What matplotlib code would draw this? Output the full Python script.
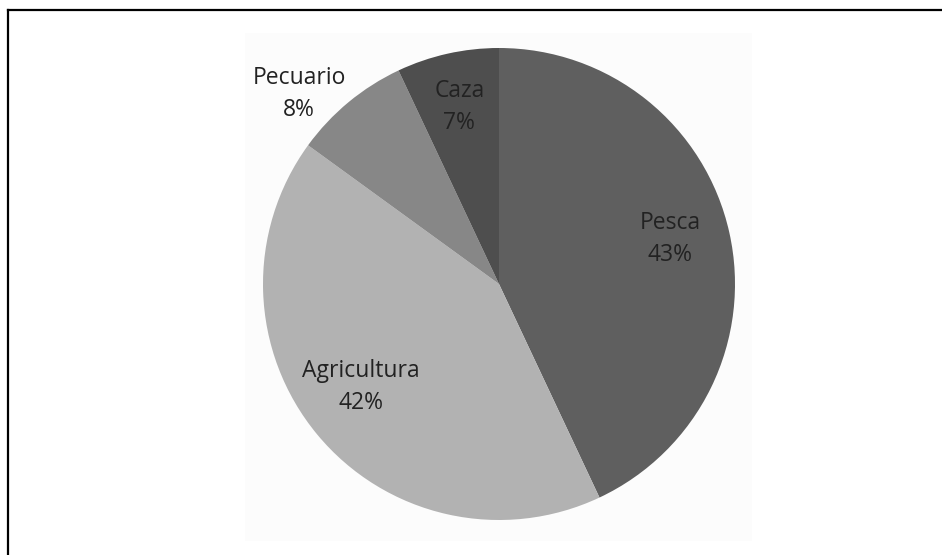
import matplotlib.pyplot as plt
import numpy as np
from matplotlib.lines import Line2D
from matplotlib.patches import Rectangle

# Datos del grafico
categorias = ['Pesca', 'Agricultura', 'Pecuario', 'Caza']
porcentajes = [43, 42, 8, 7]
colores = ['#5f5f5f', '#b2b2b2', '#878787', '#4e4e4e']
# posicion de la etiqueta: distancia (fraccion del radio) y giro en grados
dist_etiqueta = [0.75, 0.73, 1.17, 0.77]
giro_etiqueta = [2.0, -3.0, 6.8, 0.0]

plt.rcParams['font.family'] = ['Open Sans', 'DejaVu Sans']

W, H = 942, 555
fig = plt.figure(figsize=(W / 100, H / 100), dpi=100)
fig.patch.set_facecolor('white')

# marco exterior (solo arriba e izquierda)
fig.add_artist(Line2D([8 / W, 1], [1 - 10 / H, 1 - 10 / H], color='black', lw=1.6))
fig.add_artist(Line2D([8 / W, 8 / W], [0, 1 - 10 / H], color='black', lw=1.6))

# area del grafico
fig.add_artist(Rectangle((245 / W, 1 - 541 / H), 507 / W, 508 / H,
                         facecolor='#fcfcfc', edgecolor='none', zorder=0))

cx, cy, r = 499, 284, 236
ax = fig.add_axes([(cx - r) / W, (H - cy - r) / H, 2 * r / W, 2 * r / H])
wedges, _ = ax.pie(porcentajes, colors=colores, startangle=90, counterclock=False,
                   radius=1, wedgeprops=dict(linewidth=0))
ax.set_xlim(-1, 1)
ax.set_ylim(-1, 1)
ax.axis('off')

for w, nombre, p, d, g in zip(wedges, categorias, porcentajes, dist_etiqueta, giro_etiqueta):
    ang = np.deg2rad((w.theta1 + w.theta2) / 2 + g)
    ax.text(d * np.cos(ang), d * np.sin(ang), f'{nombre}\n{p}%',
            ha='center', va='center', fontsize=16.5, color='#222222',
            linespacing=1.45)

plt.savefig('out.png', dpi=100)
